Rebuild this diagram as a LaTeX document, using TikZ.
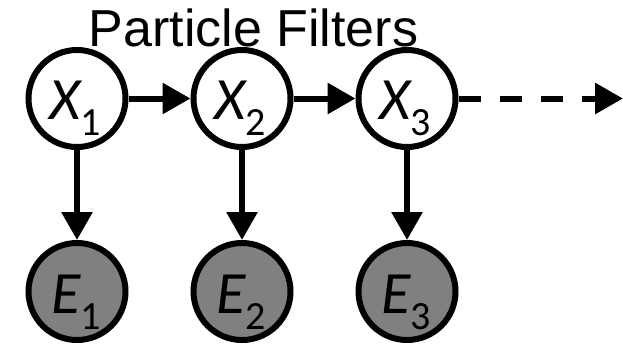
\documentclass[tikz,border=0pt]{standalone}
\usepackage{fontspec}
\setmainfont{Liberation Sans}
\newfontfamily\calibrifont{Carlito}
\usetikzlibrary{arrows.meta,calc}
\definecolor{obsgray}{HTML}{808080}
\newcommand{\vlab}[2]{{\calibrifont\fontsize{60}{60}\selectfont\itshape #1}{\calibrifont\fontsize{40}{40}\selectfont\raisebox{-16pt}{#2}}}
\begin{document}
\begin{tikzpicture}[x=1pt,y=-1pt,
  state/.style={circle, draw, line width=6pt, minimum size=97pt, inner sep=0pt, fill=white},
  obs/.style={state, fill=obsgray},
  lab/.style={anchor=base, inner sep=0pt},
  arr/.style={line width=6pt, -{Triangle[length=28pt,width=30pt]}},
  dasharr/.style={arr, dash pattern=on 22pt off 19pt},
  title/.style={anchor=base, inner sep=0pt, font=\fontsize{52}{52}\selectfont}]
\useasboundingbox (0,0) rectangle (623,345);
\node[state] (x1) at (77,98.5) {};
\node[state] (x2) at (242,98.5) {};
\node[state] (x3) at (407,98.5) {};
\node[obs] (e1) at (77,291.5) {};
\node[obs] (e2) at (242,291.5) {};
\node[obs] (e3) at (407,291.5) {};
\coordinate (end) at (623,98.5);
\node[lab] (lx1) at ($(x1.center)+(-2,20.5)$) {\vlab{X}{1}};
\node[lab] (lx2) at ($(x2.center)+(-2,20.5)$) {\vlab{X}{2}};
\node[lab] (lx3) at ($(x3.center)+(-2,20.5)$) {\vlab{X}{3}};
\node[lab] (le1) at ($(e1.center)+(-1,21.5)$) {\vlab{E}{1}};
\node[lab] (le2) at ($(e2.center)+(-1,21.5)$) {\vlab{E}{2}};
\node[lab] (le3) at ($(e3.center)+(-1,21.5)$) {\vlab{E}{3}};
\draw[arr] (x1) -- (x2);
\draw[arr] (x2) -- (x3);
\draw[dasharr] (x3.east) -- (end);
\draw[arr] (x1) -- (e1);
\draw[arr] (x2) -- (e2);
\draw[arr] (x3) -- (e3);
\node[title] (t) at (253.5,47) {Particle Filters};
\end{tikzpicture}
\end{document}
